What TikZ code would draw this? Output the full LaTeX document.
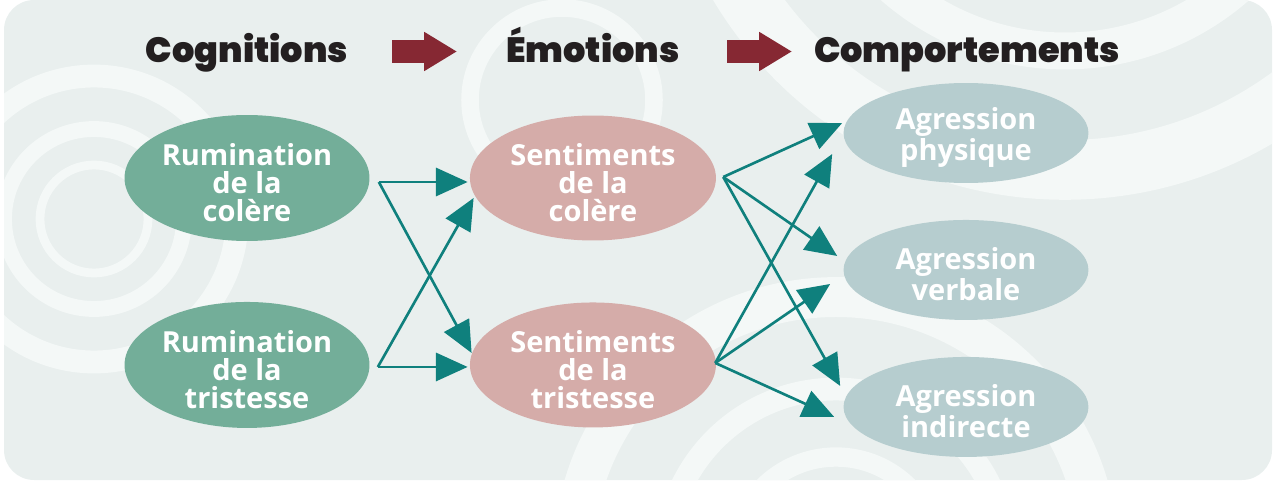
\documentclass[tikz,border=0pt]{standalone}
\usepackage{fontspec}
\setmainfont{Open Sans}
\newfontfamily\headfont{Poppins Black}
\usetikzlibrary{arrows.meta,positioning,shapes.geometric}
\definecolor{fond}{HTML}{E9EFEE}
\definecolor{anneau}{HTML}{F4F8F7}
\definecolor{vert}{HTML}{73AE99}
\definecolor{rose}{HTML}{D5ACA9}
\definecolor{bleu}{HTML}{B6CDCF}
\definecolor{sarcelle}{HTML}{0F807D}
\definecolor{bordeaux}{HTML}{862833}
\definecolor{encre}{HTML}{231F20}
\newcommand{\haut}{\rule{0pt}{17.5pt}}
\tikzstyle{bulle} = [ellipse, inner sep=0pt, align=center, text=white,
font=\bfseries\fontsize{16.5pt}{15.9pt}\selectfont]
\tikzstyle{titre} = [anchor=base, text=encre, font=\headfont\fontsize{20pt}{20pt}\selectfont]
\tikzstyle{fleche} = [draw=sarcelle, line width=1.5pt, -{Triangle[length=18pt,width=16pt]}]
\tikzstyle{grosse} = [draw=bordeaux, line width=13pt, -{Triangle[length=18.7pt,width=21pt]}]
\tikzstyle{rond} = [draw=anneau]

\begin{document}
\begin{tikzpicture}[x=0.02cm, y=-0.02cm]
    \useasboundingbox (0,0) rectangle (1274,483);
    % fond
    \fill[fond, rounded corners=0.6cm] (4,0) rectangle (1272,480);
    \begin{scope}
    \clip[rounded corners=0.6cm] (4,0) rectangle (1272,480);
    \draw[rond, line width=5pt] (94,219) circle[radius=1.08cm];
    \draw[rond, line width=9pt] (94,219) circle[radius=1.8cm];
    \draw[rond, line width=13pt] (94,219) circle[radius=2.86cm];
    \draw[rond, line width=10pt] (562,100) circle[radius=1.84cm];
    \draw[rond, line width=21pt] (1065,-210) circle[radius=5.22cm];
    \draw[rond, line width=34pt] (1065,-210) circle[radius=7.6cm];
    \draw[rond, line width=22.7pt] (836,560) circle[radius=5.26cm];
    \draw[rond, line width=13pt] (836,560) circle[radius=3.42cm];
    \draw[rond, line width=11pt] (836,560) circle[radius=2.06cm];
    \end{scope}

    % titres
    \node [titre] (cog) at (247,63) {Cognitions};
    \node [titre] (emo) at (593,63) {Émotions};
    \node [titre] (comp) at (967,63) {Comportements};
    \coordinate (f1a) at (392,51.5);
    \coordinate (f1b) at (457,51.5);
    \coordinate (f2a) at (727,51.5);
    \coordinate (f2b) at (792,51.5);
    \draw [grosse] (f1a) -- (f1b);
    \draw [grosse] (f2a) -- (f2b);

    % bulles
    \node [bulle, fill=vert, minimum width=4.9cm, minimum height=2.52cm] (g1) at (247,178) {\haut Rumination\\de la\\colère};
    \node [bulle, fill=vert, minimum width=4.9cm, minimum height=2.52cm, below of=g1, node distance=3.74cm] (g2) {\haut Rumination\\de la\\tristesse};
    \node [bulle, fill=rose, minimum width=4.92cm, minimum height=2.5cm, right of=g1, node distance=6.92cm] (p1) {\haut Sentiments\\de la\\colère};
    \node [bulle, fill=rose, minimum width=4.92cm, minimum height=2.5cm, below of=p1, node distance=3.74cm] (p2) {\haut Sentiments\\de la\\tristesse};
    \node [bulle, fill=bleu, minimum width=4.9cm, minimum height=2cm] (b1) at (966,133) {\haut Agression\\physique};
    \node [bulle, fill=bleu, minimum width=4.9cm, minimum height=2cm, below of=b1, node distance=2.74cm] (b2) {\haut Agression\\verbale};
    \node [bulle, fill=bleu, minimum width=4.9cm, minimum height=2cm, below of=b2, node distance=2.74cm] (b3) {\haut Agression\\indirecte};

    % departs
    \coordinate (a1) at ([shift={(9,4)}]g1.east);
    \coordinate (a2) at ([shift={(8,2)}]g2.east);
    \coordinate (c1) at ([shift={(7,-1)}]p1.east);
    \coordinate (c2) at ([shift={(-1,-2)}]p2.east);

    % fleches
    \draw [fleche] (a1) -- ([shift={(-2,4)}]p1.west);
    \draw [fleche] (a1) -- ([shift={(2,-12)}]p2.west);
    \draw [fleche] (a2) -- ([shift={(4,20)}]p1.west);
    \draw [fleche] (a2) -- ([shift={(-2,2)}]p2.west);

    \draw [fleche] (c1) -- ([shift={(-1,-10)}]b1.west);
    \draw [fleche] (c1) -- ([shift={(-6,-14)}]b2.west);
    \draw [fleche] (c1) -- ([shift={(-3,-21)}]b3.west);
    \draw [fleche] (c2) -- ([shift={(-11,21)}]b1.west);
    \draw [fleche] (c2) -- ([shift={(-13,14)}]b2.west);
    \draw [fleche] (c2) -- ([shift={(-9,10)}]b3.west);
\end{tikzpicture}
\end{document}
